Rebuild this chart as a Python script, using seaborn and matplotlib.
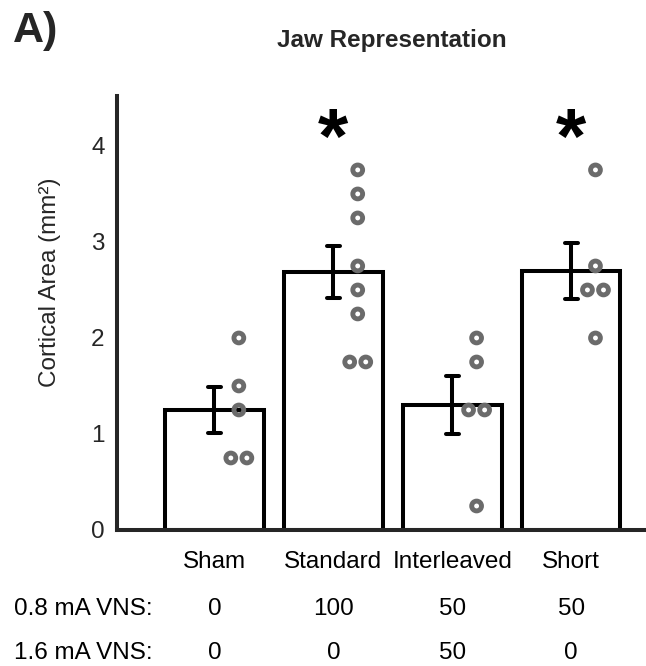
import numpy as np
import pandas as pd
import matplotlib
matplotlib.use("Agg")
import matplotlib.pyplot as plt
import matplotlib.transforms as mtransforms
import seaborn as sns

# ---- data ----
groups = ["Sham", "Standard", "Interleaved", "Short"]
sham = [2.0, 1.5, 1.25, 0.75, 0.75]
standard = [3.75, 3.5, 3.25, 2.75, 2.5, 2.25, 1.75, 1.75]
interleaved = [2.0, 1.75, 1.25, 1.25, 0.25]
short = [3.75, 2.75, 2.5, 2.5, 2.0]
vns_08 = ["0", "100", "50", "50"]
vns_16 = ["0", "0", "50", "0"]
significant = [False, True, False, True]
yticks = [0, 1, 2, 3, 4]

values = [sham, standard, interleaved, short]
df = pd.DataFrame({
    "group": [g for g, v in zip(groups, values) for _ in v],
    "area": [x for v in values for x in v],
})

sns.set_theme(style="white")
plt.rcParams["font.family"] = ["Liberation Sans", "DejaVu Sans"]

FS = 17.5

fig = plt.figure(figsize=(6.46, 6.66), dpi=100)
ax = fig.add_axes([117 / 646, 1 - 530 / 666, 1 - 117 / 646, (530 - 96) / 666])

sns.barplot(data=df, x="group", y="area", order=groups, errorbar="se",
            color="white", edgecolor="black", linewidth=2.9, width=0.83,
            capsize=0.11, err_kws={"color": "black", "linewidth": 2.9},
            ax=ax, zorder=2)

# jittered points: offset to the right, duplicates side by side
xs, ys = [], []
for i, v in enumerate(values):
    counts = pd.Series(v).value_counts()
    seen = {}
    for val in v:
        n = counts[val]
        k = seen.get(val, 0)
        seen[val] = k + 1
        off = 0.205 + (k - (n - 1) / 2) * 0.135
        xs.append(i + off)
        ys.append(val)
ax.scatter(xs, ys, s=50, facecolor="none", edgecolor="#6b6b6b",
           linewidth=3.5, zorder=5)

# significance asterisks
for i, sig in enumerate(significant):
    if sig:
        ax.text(i, 4.04, "*", ha="center", va="center", fontsize=56,
                fontweight="bold", color="black")

ax.set_ylim(0, 4.52)
ax.set_xlim(-0.82, 3.63)
ax.set_yticks(yticks)
ax.set_yticklabels([str(t) for t in yticks], fontsize=FS, color="#262626")
ax.tick_params(axis="y", direction="in", length=6, width=2.9, color="#262626", pad=9)
ax.tick_params(axis="x", length=0, pad=15)
ax.set_xticks(range(len(groups)))
ax.set_xticklabels(groups, fontsize=FS, color="black")
ax.set_xlabel("")
ax.set_ylabel("Cortical Area (mm²)", fontsize=FS, color="#262626")
ax.yaxis.set_label_coords(-0.105, 0.571)

for s in ["top", "right"]:
    ax.spines[s].set_visible(False)
for s in ["left", "bottom"]:
    ax.spines[s].set_linewidth(2.9)
    ax.spines[s].set_color("#262626")

# rows of VNS percentages
trans = mtransforms.blended_transform_factory(ax.transData, fig.transFigure)
row1_y = 1 - 615 / 666
row2_y = 1 - 659 / 666
for i in range(len(groups)):
    ax.text(i, row1_y, vns_08[i], transform=trans, ha="center",
            va="baseline", fontsize=FS, color="black")
    ax.text(i, row2_y, vns_16[i], transform=trans, ha="center",
            va="baseline", fontsize=FS, color="black")
fig.text(14 / 646, row1_y, "0.8 mA VNS:", ha="left", va="baseline",
         fontsize=FS, color="black")
fig.text(14 / 646, row2_y, "1.6 mA VNS:", ha="left", va="baseline",
         fontsize=FS, color="black")

fig.text(392 / 646, 1 - 47 / 666, "Jaw Representation", ha="center",
         va="baseline", fontsize=17.5, fontweight="bold")
fig.text(13 / 646, 1 - 42 / 666, "A)", ha="left", va="baseline",
         fontsize=31, fontweight="bold",
         family=["Liberation Sans Narrow", "Liberation Sans", "DejaVu Sans"])

fig.savefig("out.png", dpi=100)
